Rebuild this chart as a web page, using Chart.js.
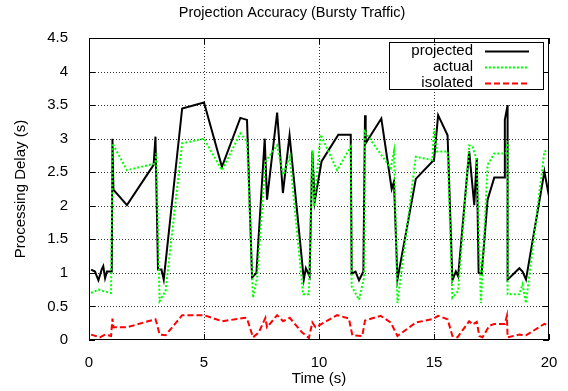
<!DOCTYPE html>
<html>
<head>
<meta charset="utf-8">
<script src="https://cdn.jsdelivr.net/npm/chart.js@4/dist/chart.umd.min.js"></script>
<style>
  html, body { margin: 0; padding: 0; background: #fff; }
  #wrap { width: 568px; height: 391px; }
</style>
</head>
<body>
<div id="wrap"><canvas id="grafico" width="568" height="391"></canvas></div>
<script>
// valores
const projectedTime = [0.09, 0.26, 0.41, 0.55, 0.62, 0.70, 0.78, 0.99, 1.02, 1.06, 1.65, 2.81, 2.89, 3.0, 3.15, 3.25, 4.05, 5.0, 5.78, 6.58, 6.87, 7.09, 7.28, 7.64, 7.74, 8.18, 8.43, 8.72, 9.34, 9.43, 9.59, 9.71, 9.81, 10.11, 10.84, 11.38, 11.42, 11.59, 11.74, 11.93, 12.0, 12.03, 12.71, 13.16, 13.26, 13.41, 14.21, 14.93, 15.0, 15.18, 15.59, 15.8, 15.95, 16.05, 16.53, 16.75, 16.86, 16.94, 17.07, 17.33, 17.62, 18.08, 18.08, 18.2, 18.2, 18.71, 18.85, 19.0, 19.8, 20.0];
const projectedDelay = [1.05, 1.02, 0.89, 1.05, 1.1, 0.92, 1.02, 1.02, 3.0, 2.24, 2.01, 2.61, 3.03, 1.05, 1.05, 0.9, 3.45, 3.54, 2.58, 3.31, 3.28, 0.93, 1.0, 3.0, 2.09, 3.39, 2.19, 3.05, 0.9, 1.07, 0.95, 2.8, 2.06, 2.66, 3.06, 3.06, 0.99, 1.02, 0.89, 1.02, 3.35, 2.93, 3.3, 2.25, 2.36, 0.9, 2.4, 2.66, 2.68, 3.35, 3.05, 0.89, 1.02, 0.95, 2.81, 2.01, 2.71, 1.0, 0.98, 2.09, 2.42, 2.42, 3.28, 3.5, 0.9, 1.07, 1.02, 0.9, 2.51, 2.14];

const actualTime = [0.09, 0.41, 0.7, 0.96, 1.02, 1.65, 2.89, 2.92, 3.07, 3.33, 4.05, 5.0, 5.78, 6.58, 6.87, 7.13, 7.31, 7.67, 8.18, 8.44, 8.73, 9.31, 9.56, 9.71, 9.78, 10.07, 10.79, 11.38, 11.42, 11.74, 11.96, 12.0, 13.12, 13.26, 13.41, 14.21, 14.93, 15.0, 15.12, 15.59, 15.8, 16.05, 16.53, 16.68, 16.86, 17.04, 17.33, 17.62, 18.13, 18.2, 18.2, 18.71, 18.85, 19.0, 19.8, 20.0];
const actualDelay = [0.7, 0.75, 0.72, 0.7, 2.93, 2.53, 2.63, 2.78, 0.58, 0.73, 2.93, 3.0, 2.53, 3.08, 2.96, 0.63, 0.93, 2.66, 2.9, 2.46, 2.73, 0.68, 0.68, 2.83, 1.99, 3.06, 2.53, 2.88, 0.8, 0.6, 0.93, 3.1, 2.56, 2.81, 0.55, 2.73, 2.68, 3.15, 2.81, 2.81, 0.63, 0.73, 2.9, 2.88, 2.68, 0.55, 2.61, 2.78, 2.78, 2.96, 0.68, 0.68, 0.83, 0.55, 2.81, 2.83];

const isolatedTime = [0.09, 0.47, 0.7, 0.96, 1.02, 1.06, 1.65, 2.89, 2.96, 3.07, 3.33, 4.05, 5.0, 5.78, 6.8, 6.87, 7.13, 7.38, 7.67, 7.74, 8.18, 8.44, 8.73, 9.27, 9.56, 9.71, 9.85, 10.79, 11.3, 11.45, 11.88, 12.0, 12.68, 13.12, 13.41, 14.21, 14.93, 15.18, 15.59, 15.8, 16.02, 16.53, 16.68, 16.86, 16.97, 17.11, 17.4, 17.62, 18.08, 18.17, 18.2, 18.71, 19.0, 19.8, 20.0];
const isolatedDelay = [0.08, 0.04, 0.08, 0.06, 0.32, 0.19, 0.19, 0.31, 0.23, 0.08, 0.07, 0.37, 0.37, 0.28, 0.33, 0.32, 0.04, 0.11, 0.33, 0.19, 0.37, 0.28, 0.33, 0.11, 0.03, 0.26, 0.19, 0.37, 0.32, 0.07, 0.06, 0.29, 0.36, 0.26, 0.06, 0.26, 0.31, 0.36, 0.31, 0.06, 0.04, 0.28, 0.23, 0.27, 0.06, 0.04, 0.21, 0.24, 0.24, 0.36, 0.04, 0.08, 0.07, 0.24, 0.21];

const seriesLabels = ['projected', 'actual', 'isolated'];
const xTicks = [0, 5, 10, 15, 20];
const yTicks = [0, 0.5, 1, 1.5, 2, 2.5, 3, 3.5, 4, 4.5];

const FONTE = 'Liberation Sans, Arial, Helvetica, sans-serif';

function pontos(xs, ys) {
  return xs.map((x, i) => ({ x: x, y: ys[i] }));
}

// grade pontilhada desenhada antes das linhas
const gradePontilhada = {
  id: 'gradePontilhada',
  beforeDatasetsDraw(chart) {
    const { ctx, chartArea: a, scales } = chart;
    ctx.save();
    ctx.strokeStyle = 'rgba(0,0,0,0.8)';
    ctx.lineWidth = 1;
    ctx.setLineDash([1, 2]);
    ctx.beginPath();
    xTicks.slice(1, -1).forEach(v => {
      const px = Math.round(scales.x.getPixelForValue(v)) + 0.5;
      ctx.moveTo(px, a.top); ctx.lineTo(px, a.bottom);
    });
    yTicks.slice(1, -1).forEach(v => {
      const py = Math.round(scales.y.getPixelForValue(v)) + 0.5;
      ctx.moveTo(a.left, py); ctx.lineTo(a.right, py);
    });
    ctx.stroke();
    ctx.restore();
  }
};

// borda, marcas internas, titulo e legenda no estilo gnuplot
const estiloGnuplot = {
  id: 'estiloGnuplot',
  afterDraw(chart) {
    const { ctx, chartArea: a, scales } = chart;
    ctx.save();
    ctx.strokeStyle = '#000';
    ctx.lineWidth = 1;
    ctx.strokeRect(a.left + 0.5, a.top + 0.5, a.right - a.left - 1, a.bottom - a.top - 1);

    const t = 6;
    ctx.beginPath();
    xTicks.forEach(v => {
      const px = Math.round(scales.x.getPixelForValue(v)) + 0.5;
      ctx.moveTo(px, a.bottom); ctx.lineTo(px, a.bottom - t);
      ctx.moveTo(px, a.top); ctx.lineTo(px, a.top + t);
    });
    yTicks.forEach(v => {
      const py = Math.round(scales.y.getPixelForValue(v)) + 0.5;
      ctx.moveTo(a.left, py); ctx.lineTo(a.left + t, py);
      ctx.moveTo(a.right, py); ctx.lineTo(a.right - t, py);
    });
    ctx.stroke();

    // titulo
    ctx.fillStyle = '#000';
    ctx.font = '14.5px ' + FONTE;
    ctx.textAlign = 'center';
    ctx.textBaseline = 'middle';
    ctx.fillText('Projection Accuracy (Bursty Traffic)', 292, 13);

    // legenda manual
    const bx = 389, by = 42, bw = 154, bh = 47;
    ctx.fillStyle = '#fff';
    ctx.fillRect(bx, by, bw, bh);
    ctx.strokeStyle = '#000';
    ctx.strokeRect(bx + 0.5, by + 0.5, bw, bh);
    ctx.font = '15px ' + FONTE;
    ctx.textAlign = 'right';
    seriesLabels.forEach((nome, row) => {
      const ds = chart.data.datasets.find(d => d.label === nome);
      const y = 51 + row * 16;
      ctx.fillStyle = '#000';
      ctx.fillText(ds.label, 473, y);
      ctx.beginPath();
      ctx.strokeStyle = ds.borderColor;
      ctx.lineWidth = ds.borderWidth;
      ctx.setLineDash(ds.borderDash || []);
      ctx.moveTo(485, y + 0.5);
      ctx.lineTo(529, y + 0.5);
      ctx.stroke();
      ctx.setLineDash([]);
    });
    ctx.restore();
  }
};

new Chart(document.getElementById('grafico'), {
  type: 'scatter',
  data: {
    datasets: [
      {
        label: seriesLabels[0],
        data: pontos(projectedTime, projectedDelay),
        borderColor: '#000000',
        borderWidth: 2,
        order: 2
      },
      {
        label: seriesLabels[1],
        data: pontos(actualTime, actualDelay),
        borderColor: '#00ff00',
        borderWidth: 2,
        borderDash: [2, 2],
        order: 1
      },
      {
        label: seriesLabels[2],
        data: pontos(isolatedTime, isolatedDelay),
        borderColor: '#ff0000',
        borderWidth: 2,
        borderDash: [6, 3],
        order: 0
      }
    ].map(d => Object.assign(d, { showLine: true, pointRadius: 0, tension: 0, fill: false }))
  },
  options: {
    responsive: false,
    animation: false,
    layout: { padding: { top: 38, right: 19, left: 0, bottom: 0 } },
    plugins: {
      legend: { display: false },
      tooltip: { enabled: false },
      title: { display: false }
    },
    scales: {
      x: {
        type: 'linear',
        min: 0,
        max: 20,
        afterFit(s) { s.height = 51; },
        afterBuildTicks(s) { s.ticks = xTicks.map(v => ({ value: v })); },
        ticks: { color: '#000', padding: 6, font: { family: FONTE, size: 15 }, callback: v => String(v) },
        grid: { display: false },
        border: { display: false },
        title: { display: true, text: 'Time (s)', color: '#000', padding: { top: 0, bottom: 3 }, font: { family: FONTE, size: 15 } }
      },
      y: {
        type: 'linear',
        min: 0,
        max: 4.5,
        afterFit(s) { s.width = 89; },
        afterBuildTicks(s) { s.ticks = yTicks.map(v => ({ value: v })); },
        ticks: { color: '#000', padding: 13, font: { family: FONTE, size: 15 }, callback: v => String(v) },
        grid: { display: false },
        border: { display: false },
        title: { display: true, text: 'Processing Delay (s)', color: '#000', padding: { top: 12, bottom: 0 }, font: { family: FONTE, size: 15 } }
      }
    }
  },
  plugins: [gradePontilhada, estiloGnuplot]
});
</script>
</body>
</html>
